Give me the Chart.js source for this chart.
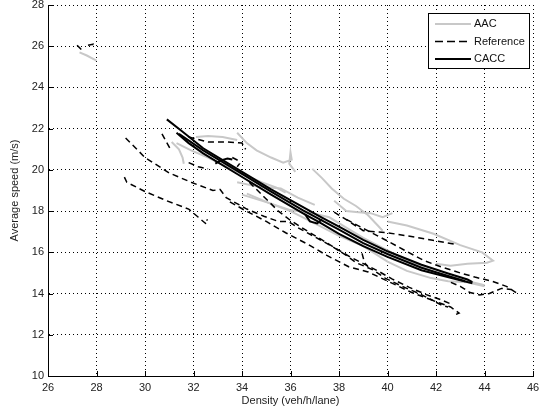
<!DOCTYPE html>
<html>
<head>
<meta charset="utf-8">
<script src="https://cdn.jsdelivr.net/npm/chart.js@4"></script>
<style>
  html, body { margin: 0; padding: 0; background: #fff; }
  #chart { display: block; }
</style>
</head>
<body>
<canvas id="chart" width="545" height="416"></canvas>
<script>
// axis ticks
const xTicks = [26, 28, 30, 32, 34, 36, 38, 40, 42, 44, 46];
const yTicks = [10, 12, 14, 16, 18, 20, 22, 24, 26, 28];

// AAC runs (density, speed)
const aac1 = [[27.3, 25.7], [27.6, 25.55], [28.0, 25.3]];
const aac2 = [[31.1, 21.35], [31.4, 21.0], [31.55, 20.6], [31.6, 20.3]];
const aac3 = [[31.3, 21.3], [31.9, 20.95], [32.6, 20.6], [33.2, 20.25], [34.0, 19.8], [34.8, 19.4], [35.4, 19.15], [35.8, 18.9]];
const aac4 = [[32.1, 21.6], [32.6, 21.65], [33.2, 21.6], [33.8, 21.45]];
const aac5 = [[33.8, 21.8], [34.2, 21.3], [34.6, 20.95], [35.2, 20.6], [35.7, 20.35], [36.05, 20.5], [36.0, 20.85], [35.95, 20.3], [36.2, 19.9]];
const aac6 = [[33.8, 19.4], [34.6, 19.2], [35.6, 19.1], [36.3, 18.65], [37.0, 18.3]];
const aac7 = [[36.9, 20.05], [37.3, 19.6], [37.7, 19.1], [38.2, 18.6], [38.7, 18.25], [39.2, 17.8], [39.6, 17.3], [39.8, 17.05]];
const aac8 = [[37.8, 18.5], [38.3, 18.0], [38.8, 17.95], [39.3, 17.9], [39.8, 17.7], [40.2, 17.9]];
const aac9 = [[40.0, 17.5], [40.8, 17.3], [41.9, 16.9], [43.0, 16.35], [43.9, 16.0], [44.35, 15.6], [44.1, 15.5], [43.3, 15.45], [42.6, 15.35], [42.0, 15.45]];
const aac10 = [[34.0, 18.8], [35.1, 18.4], [36.0, 18.05], [36.9, 17.9], [37.6, 17.7], [38.3, 17.2], [39.0, 16.7], [40.0, 16.1], [41.0, 15.5], [42.0, 15.0], [43.0, 14.7], [44.0, 14.4]];
const aac11 = [[34.2, 18.85], [35.2, 18.35], [36.0, 18.0], [37.0, 17.4], [38.0, 16.8], [39.0, 16.3], [40.0, 15.55], [40.8, 15.1], [41.8, 14.75], [42.5, 14.6], [43.3, 14.55], [44.0, 14.35]];

// Reference runs
const ref1 = [[27.2, 26.05], [27.45, 25.75]];
const ref2 = [[27.65, 26.05], [27.85, 26.1], [27.8, 25.95]];
const ref3 = [[29.2, 21.55], [30.0, 20.6], [31.0, 19.85], [31.9, 19.4], [32.8, 19.0], [33.1, 19.05], [33.35, 18.65], [34.2, 18.1], [34.9, 17.75], [35.5, 17.5], [35.9, 17.5], [36.3, 17.2], [37.0, 16.75], [37.7, 16.3], [38.3, 15.85], [38.7, 15.5], [39.4, 15.15], [39.9, 14.75], [40.6, 14.35], [41.3, 14.0], [41.9, 13.65], [42.6, 13.35], [42.95, 13.05], [42.75, 12.95]];
const ref4 = [[29.15, 19.65], [29.25, 19.4], [30.0, 18.95], [30.9, 18.5], [31.8, 18.1], [32.2, 17.7], [32.5, 17.4], [32.6, 17.45], [32.55, 17.6]];
const ref5 = [[30.7, 21.75], [31.05, 21.0]];
const ref6 = [[31.8, 21.6], [32.6, 21.35], [33.4, 21.35], [34.0, 21.3], [34.15, 21.0]];
const ref7 = [[31.8, 20.35], [32.2, 20.15], [32.6, 20.05]];
const ref8 = [[33.6, 20.6], [33.85, 20.45], [33.9, 20.3], [33.8, 20.15]];
const ref9 = [[34.3, 19.4], [34.9, 18.7], [35.5, 18.0], [36.0, 17.55], [36.6, 17.1], [37.3, 16.6], [38.0, 16.1], [38.5, 15.75], [39.0, 15.45], [39.6, 15.1], [40.2, 14.7], [40.9, 14.3], [41.6, 13.95], [42.2, 13.7], [42.6, 13.5]];
const ref10 = [[33.5, 18.45], [34.1, 18.05], [35.0, 17.5], [35.8, 16.95], [36.7, 16.4], [37.5, 15.85], [38.4, 15.3], [39.2, 15.05], [40.1, 14.55], [41.0, 14.05], [41.8, 13.7], [42.3, 13.4], [42.5, 13.35]];
const ref11 = [[37.8, 17.95], [38.35, 17.55], [39.0, 17.05], [40.0, 16.95], [40.8, 16.8], [41.8, 16.6], [42.75, 16.4]];
const ref12 = [[38.3, 17.6], [39.1, 17.1], [40.0, 16.55], [40.7, 16.1], [41.5, 15.6], [42.2, 15.3], [43.0, 15.0], [43.6, 14.8], [44.3, 14.6], [44.9, 14.35], [45.3, 14.05], [45.1, 14.2], [44.7, 14.25], [44.2, 14.0], [43.8, 13.93], [43.4, 14.05], [43.0, 14.35], [42.6, 14.55]];
const ref13 = [[38.95, 15.95], [39.05, 15.5], [39.2, 15.3]];

// CACC runs
const cacc1 = [[30.9, 22.45], [31.5, 21.9], [32.4, 21.05], [33.8, 20.05], [35.2, 19.05], [36.5, 18.2], [37.2, 17.75], [38.0, 17.25], [39.0, 16.6], [40.0, 16.05], [41.4, 15.4], [42.5, 14.97], [43.3, 14.68], [43.5, 14.55]];
const cacc2 = [[43.5, 14.5], [42.8, 14.7], [41.4, 15.13], [40.0, 15.78], [39.0, 16.3], [38.0, 16.9], [37.2, 17.45], [36.5, 17.9], [35.2, 18.8], [33.8, 19.8], [32.4, 20.8], [31.8, 21.3], [31.3, 21.8]];
const cacc3 = [[31.4, 21.75], [32.4, 20.95], [33.8, 19.95], [35.2, 18.95], [36.5, 18.05], [38.0, 17.1], [39.0, 16.45], [40.0, 15.92], [41.4, 15.25], [42.5, 14.85], [43.2, 14.6]];
const cacc4 = [[32.9, 20.3], [33.1, 20.45], [33.4, 20.55], [33.6, 20.5]];
const cacc5 = [[36.6, 17.85], [36.8, 17.5], [37.1, 17.4], [37.3, 17.6]];

const aacRuns = [aac1, aac2, aac3, aac4, aac5, aac6, aac7, aac8, aac9, aac10, aac11];
const refRuns = [ref1, ref2, ref3, ref4, ref5, ref6, ref7, ref8, ref9, ref10, ref11, ref12, ref13];
const caccRuns = [cacc1, cacc2, cacc3, cacc4, cacc5];

const FONT = "'Liberation Sans', Arial, sans-serif";

const series = [
    { label: 'CACC', runs: caccRuns, color: '#000', width: 2, dash: [], order: 0 },
    { label: 'Reference', runs: refRuns, color: '#000', width: 1.5, dash: [6, 4], order: 1 },
    { label: 'AAC', runs: aacRuns, color: '#c8c8c8', width: 2, dash: [], order: 2 }
];

const datasets = [];
series.forEach(s => {
    s.runs.forEach((run, i) => {
        datasets.push({
            label: i === 0 ? s.label : '',
            data: run.map(([x, y]) => ({ x, y })),
            showLine: true,
            borderColor: s.color,
            borderWidth: s.width,
            borderDash: s.dash,
            pointRadius: 0,
            tension: 0,
            fill: false,
            order: s.order
        });
    });
});

// inward tick marks like the original
const innerTicks = {
    id: 'innerTicks',
    afterDraw(chart) {
        const { ctx, chartArea, scales } = chart;
        ctx.save();
        ctx.strokeStyle = '#000';
        ctx.lineWidth = 1;
        ctx.beginPath();
        xTicks.forEach(v => {
            const px = Math.round(scales.x.getPixelForValue(v)) + 0.5;
            ctx.moveTo(px, chartArea.bottom);
            ctx.lineTo(px, chartArea.bottom - 5);
        });
        yTicks.forEach(v => {
            const py = Math.round(scales.y.getPixelForValue(v)) + 0.5;
            ctx.moveTo(chartArea.left, py);
            ctx.lineTo(chartArea.left + 5, py);
        });
        ctx.stroke();
        ctx.restore();
    }
};

// boxed legend in the top right corner
const boxLegend = {
    id: 'boxLegend',
    afterDraw(chart) {
        const ctx = chart.ctx;
        const box = { x: 428.5, y: 13.5, w: 101, h: 55 };
        const entries = [
            { label: 'AAC', color: '#c8c8c8', width: 2, dash: [] },
            { label: 'Reference', color: '#000', width: 1.5, dash: [8, 4] },
            { label: 'CACC', color: '#000', width: 2, dash: [] }
        ];
        ctx.save();
        ctx.fillStyle = '#fff';
        ctx.fillRect(box.x, box.y, box.w, box.h);
        ctx.strokeStyle = '#000';
        ctx.lineWidth = 1;
        ctx.strokeRect(box.x, box.y, box.w, box.h);
        ctx.font = '11px ' + FONT;
        ctx.textBaseline = 'middle';
        entries.forEach((e, i) => {
            const y = 24 + i * 17.5;
            ctx.strokeStyle = e.color;
            ctx.lineWidth = e.width;
            ctx.setLineDash(e.dash);
            ctx.beginPath();
            ctx.moveTo(435, y);
            ctx.lineTo(471, y);
            ctx.stroke();
            ctx.setLineDash([]);
            ctx.fillStyle = '#111';
            ctx.fillText(e.label, 474, y);
        });
        ctx.restore();
    }
};

const gridOpts = { color: '#000', lineWidth: 1, drawTicks: false };
const borderOpts = { display: true, color: '#000', width: 1, dash: [1, 3] };

new Chart(document.getElementById('chart'), {
    type: 'scatter',
    data: { datasets },
    options: {
        responsive: false,
        animation: false,
        layout: { padding: { top: 5, right: 12, left: 0, bottom: 0 } },
        plugins: {
            legend: { display: false },
            tooltip: { enabled: false }
        },
        scales: {
            x: {
                type: 'linear',
                min: 26,
                max: 46,
                grid: gridOpts,
                border: borderOpts,
                afterBuildTicks: s => { s.ticks = xTicks.map(v => ({ value: v })); },
                afterFit: s => { s.height = 40; s.paddingLeft = 0; s.paddingRight = 0; },
                ticks: { color: '#222', font: { family: FONT, size: 11 }, padding: 5, maxRotation: 0 },
                title: {
                    display: true,
                    text: 'Density (veh/h/lane)',
                    color: '#222',
                    font: { family: FONT, size: 11 },
                    padding: { top: 0, bottom: 8 }
                }
            },
            y: {
                type: 'linear',
                min: 10,
                max: 28,
                grid: gridOpts,
                border: borderOpts,
                afterBuildTicks: s => { s.ticks = yTicks.map(v => ({ value: v })); },
                afterFit: s => { s.width = 48; s.paddingTop = 0; s.paddingBottom = 0; },
                ticks: { color: '#222', font: { family: FONT, size: 11 }, padding: 4 },
                title: {
                    display: true,
                    text: 'Average speed (m/s)',
                    color: '#222',
                    font: { family: FONT, size: 11 },
                    padding: { top: 8, bottom: 0 }
                }
            }
        }
    },
    plugins: [innerTicks, boxLegend]
});
</script>
</body>
</html>
